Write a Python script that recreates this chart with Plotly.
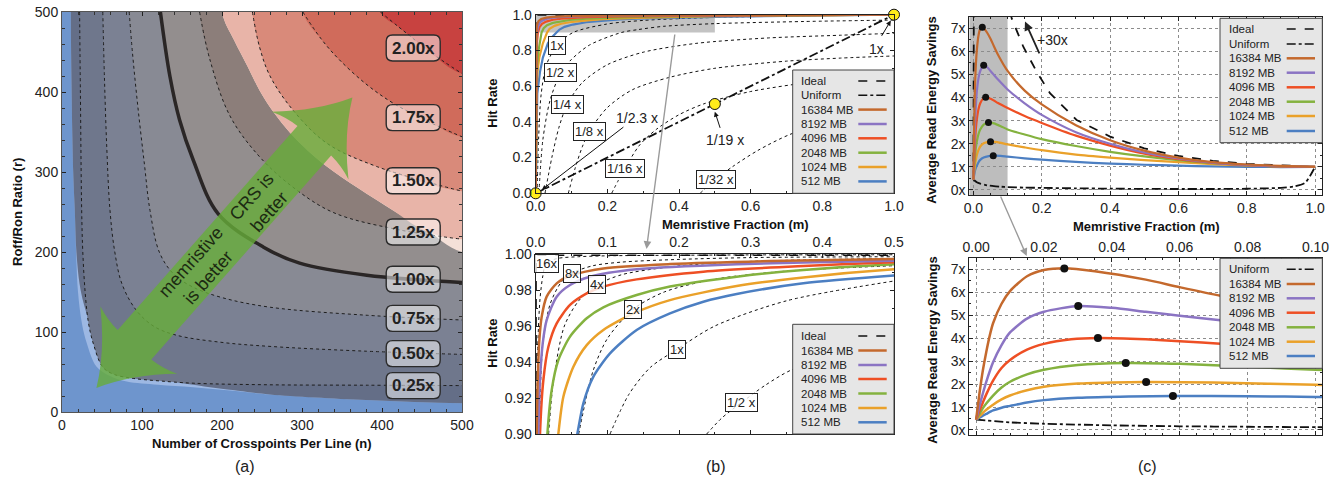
import math
import plotly.graph_objects as go

W, H = 1340, 480
FONT = "Liberation Sans"


def PX(x):
    return x / W


def PY(y):
    return 1 - y / H


# ======================= (a) data: contour boundaries (n, r) =======================
PALE_N = [11, 12, 14, 16, 18, 20, 25, 31, 43, 60, 81, 120, 164, 220, 260, 380, 500]
PALE_R = [500, 400, 300, 252, 190, 150, 110, 86, 57, 45, 38, 34, 31, 26, 22, 15, 11]
SLATE_N = [11, 12, 14, 16, 18, 22, 27, 36, 47, 65, 89, 120, 164, 220, 260, 380, 500]
SLATE_R = [500, 400, 300, 252, 200, 160, 136, 108, 86, 66, 52, 42, 34, 26.5, 22, 15, 11]
C025_N = [22, 23, 24.6, 26, 29, 33, 39, 51, 65, 89, 120, 164, 260, 380, 500]
C025_R = [500, 400, 252, 200, 149, 112, 86, 56, 47, 42, 39, 36, 34, 33.5, 33]
C050_N = [51, 53, 56, 60, 66, 75, 93, 115, 143, 200, 260, 380, 500]
C050_R = [500, 420, 330, 252, 200, 160, 127, 107, 96, 87, 82, 76, 72]
C075_N = [84, 88, 95, 103, 110, 122, 140, 164, 200, 260, 380, 500]
C075_R = [500, 450, 380, 310, 252, 199, 172, 156, 143, 131, 121, 115]
C100_N = [123, 135, 147, 164, 195, 252, 297, 381, 500]
C100_R = [500, 419, 365, 315, 248, 206, 186, 171, 162]
C125_N = [172, 185, 210, 247, 290, 340, 420, 500]
C125_R = [500, 440, 370, 319, 280, 249, 228, 216]
C150_N = [238, 247, 260, 289, 331, 393, 500]
C150_R = [500, 456, 420, 377, 336, 307, 276]
C175_N = [301, 325, 347, 380, 414, 460, 500]
C175_R = [500, 465, 440, 410, 386, 362, 344]
C200_N = [398, 420, 435, 460, 500]
C200_R = [500, 482, 470, 450, 423]
PINK_N = [200, 215, 232, 247, 265, 285, 307, 331, 370, 414, 455, 500]
PINK_R = [500, 465, 432, 402, 374, 349, 327, 307, 280, 252, 228, 200]
ENV_N = [200, 215, 232, 247, 265, 285, 307, 331, 370, 414, 445, 470, 500]
ENV_R = [500, 465, 432, 402, 374, 349, 327, 307, 280, 252, 231, 221, 216]
A_LABELS = ["2.00x", "1.75x", "1.50x", "1.25x", "1.00x", "0.75x", "0.50x", "0.25x"]
A_LABEL_R = [455, 368, 289, 225, 166, 117, 73, 33]
A_LABEL_N = 439

# ======================= (b) data: hit rate vs memristive fraction =======================
SIZES = ["16384 MB", "8192 MB", "4096 MB", "2048 MB", "1024 MB", "512 MB"]
COLORS = ["#c4692d", "#8b74c3", "#ee4f24", "#84b23f", "#eaa12a", "#4c7fc2"]

HR_M = {
    "512 MB": [0, 0.003, 0.0045, 0.012, 0.02, 0.034, 0.046, 0.0581, 0.0665, 0.0805, 0.1037, 0.1409,
               0.1874, 0.234, 0.2805, 0.3735, 0.5, 0.6, 0.7, 0.8, 0.9, 1.0],
    "1024 MB": [0, 0.002, 0.005, 0.01, 0.02, 0.026, 0.0316, 0.0386, 0.0526, 0.0712, 0.0944, 0.1363,
                0.1874, 0.2805, 0.3735, 0.5, 0.6, 0.7, 0.8, 0.9, 1.0],
    "2048 MB": [0, 0.0015, 0.004, 0.008, 0.012, 0.0163, 0.0223, 0.0316, 0.0479, 0.0712, 0.0944, 0.1409,
                0.1874, 0.2805, 0.3735, 0.5, 0.6, 0.7, 0.8, 0.9, 1.0],
    "4096 MB": [0, 0.001, 0.0025, 0.004, 0.006, 0.0107, 0.0177, 0.0293, 0.0479, 0.0712, 0.0944, 0.1409,
                0.234, 0.3735, 0.5, 0.6, 0.7, 0.8, 0.9, 1.0],
    "8192 MB": [0, 0.0008, 0.002, 0.003, 0.0037, 0.006, 0.0098, 0.0153, 0.0293, 0.0479, 0.0758, 0.1409,
                0.2805, 0.5, 0.6, 0.7, 0.8, 0.9, 1.0],
    "16384 MB": [0, 0.0005, 0.001, 0.0014, 0.0028, 0.0051, 0.0084, 0.0153, 0.0293, 0.0479, 0.0944, 0.1874,
                 0.327, 0.5, 0.6, 0.7, 0.8, 0.9, 1.0],
}
HR_H = {
    "512 MB": [0, 0.45, 0.56, 0.68, 0.76, 0.84, 0.875, 0.900, 0.917, 0.9319, 0.9448, 0.9578,
               0.967, 0.9735, 0.9778, 0.9837, 0.988, 0.9905, 0.9925, 0.9945, 0.9965, 1.0],
    "1024 MB": [0, 0.55, 0.68, 0.76, 0.84, 0.875, 0.900, 0.9207, 0.9374, 0.9494, 0.9578, 0.967,
                0.9744, 0.9822, 0.987, 0.9915, 0.9935, 0.995, 0.9965, 0.998, 1.0],
    "2048 MB": [0, 0.55, 0.72, 0.80, 0.86, 0.900, 0.9244, 0.9411, 0.9541, 0.9643, 0.9704, 0.9772,
                0.9819, 0.9874, 0.9911, 0.9943, 0.9955, 0.9965, 0.9975, 0.9985, 1.0],
    "4096 MB": [0, 0.55, 0.75, 0.85, 0.900, 0.930, 0.9485, 0.9615, 0.9717, 0.9781, 0.9819, 0.9859,
                0.9902, 0.9933, 0.9954, 0.9962, 0.997, 0.9978, 0.9986, 1.0],
    "8192 MB": [0, 0.60, 0.80, 0.87, 0.900, 0.930, 0.9504, 0.9633, 0.9763, 0.9828, 0.9874, 0.9915,
                0.9943, 0.9963, 0.9968, 0.9974, 0.998, 0.9987, 1.0],
    "16384 MB": [0, 0.60, 0.82, 0.900, 0.930, 0.9522, 0.9652, 0.9763, 0.9837, 0.988, 0.992, 0.9944,
                 0.9961, 0.9972, 0.9976, 0.998, 0.9985, 0.999, 1.0],
}
IDEAL_B_M = [0, 0.0005, 1.0]
IDEAL_B_H = [0, 0.9993, 0.9993]
UNIFORM_B_M = [0, 1.0]
UNIFORM_B_H = [0, 1.0]
YELLOW_M = [0, 0.5, 1.0]
YELLOW_H = [0, 0.5, 1.0]

# iso-savings dotted lines, top panel
ISO_TOP = {
    "1x": ([0.004, 0.008, 0.015, 0.03, 0.06, 0.104, 0.197, 0.3, 0.5, 0.75, 1.0],
           [0, 0.3, 0.55, 0.72, 0.83, 0.9, 0.947, 0.968, 0.985, 0.994, 1.0]),
    "1/2 x": ([0.009, 0.02, 0.04, 0.07, 0.1, 0.15, 0.2386, 0.287, 0.357, 0.5, 0.75, 1.0],
              [0, 0.3, 0.52, 0.676, 0.75, 0.83, 0.9, 0.917, 0.935, 0.95, 0.962, 0.97]),
    "1/4 x": ([0.026, 0.045, 0.065, 0.088, 0.13, 0.2, 0.3, 0.45, 0.65, 0.85, 1.0],
              [0, 0.2, 0.37, 0.498, 0.62, 0.72, 0.79, 0.84, 0.87, 0.885, 0.896]),
    "1/8 x": ([0.091, 0.11, 0.13, 0.149, 0.2, 0.27, 0.375, 0.5, 0.7, 0.85, 1.0],
              [0, 0.14, 0.26, 0.345, 0.48, 0.58, 0.65, 0.7, 0.74, 0.757, 0.769]),
    "1/16 x": ([0.212, 0.23, 0.249, 0.29, 0.338, 0.4, 0.468, 0.6, 0.8, 1.0],
               [0, 0.07, 0.14, 0.27, 0.36, 0.44, 0.5, 0.57, 0.63, 0.66]),
    "1/32 x": ([0.459, 0.48, 0.503, 0.55, 0.62, 0.71, 0.85, 1.0],
               [0, 0.04, 0.08, 0.15, 0.24, 0.33, 0.42, 0.48]),
}
ISO_TOP_LABEL_POS = {"1x": (0.06, 0.83), "1/2 x": (0.07, 0.676), "1/4 x": (0.088, 0.498),
                     "1/8 x": (0.149, 0.345), "1/16 x": (0.249, 0.14), "1/32 x": (0.503, 0.08)}

# iso-savings dotted lines, bottom (zoomed) panel
ISO_BOT = {
    "16x": ([0.0015, 0.003, 0.006, 0.01, 0.0144, 0.03, 0.06, 0.1, 0.2, 0.3, 0.5],
            [0.9, 0.95, 0.975, 0.988, 0.9948, 0.9975, 0.9985, 0.999, 0.9993, 0.9995, 0.9996]),
    "8x": ([0.005, 0.01, 0.02, 0.035, 0.0502, 0.08, 0.12, 0.2, 0.3, 0.5],
           [0.9, 0.95, 0.972, 0.984, 0.9893, 0.9935, 0.9955, 0.997, 0.998, 0.9985]),
    "4x": ([0.018, 0.025, 0.04, 0.06, 0.0851, 0.12, 0.18, 0.25, 0.35, 0.5],
           [0.9, 0.93, 0.96, 0.974, 0.9828, 0.9885, 0.9925, 0.995, 0.9965, 0.9975]),
    "2x": ([0.06, 0.08, 0.1, 0.1363, 0.18, 0.25, 0.35, 0.5],
           [0.9, 0.935, 0.953, 0.9694, 0.979, 0.986, 0.9905, 0.9935]),
    "1x": ([0.1037, 0.13, 0.16, 0.197, 0.25, 0.35, 0.5],
           [0.9, 0.922, 0.937, 0.947, 0.96, 0.974, 0.985]),
    "1/2 x": ([0.2386, 0.26, 0.287, 0.32, 0.357, 0.42, 0.5],
              [0.9, 0.909, 0.9174, 0.927, 0.9356, 0.943, 0.95]),
}
ISO_BOT_LABEL_POS = {"16x": (0.0144, 0.9948), "8x": (0.0502, 0.9893), "4x": (0.0851, 0.9828),
                     "2x": (0.1363, 0.9694), "1x": (0.197, 0.947), "1/2 x": (0.287, 0.9174)}

# ======================= (c) data: read energy savings =======================
ES_M = {
    "16384 MB": [0, 0.001, 0.002, 0.003, 0.004, 0.005, 0.0075, 0.01, 0.015, 0.02, 0.026, 0.035, 0.05, 0.06,
                 0.072, 0.1, 0.15, 0.2, 0.3, 0.4, 0.5, 0.6, 0.7, 0.8, 0.9, 1.0],
    "8192 MB": [0, 0.001, 0.002, 0.003, 0.005, 0.0075, 0.01, 0.015, 0.02, 0.03, 0.04, 0.05, 0.06, 0.072,
                0.1, 0.15, 0.2, 0.3, 0.4, 0.5, 0.6, 0.7, 0.8, 0.9, 1.0],
    "4096 MB": [0, 0.001, 0.002, 0.003, 0.005, 0.0075, 0.01, 0.015, 0.02, 0.028, 0.036, 0.05, 0.06, 0.072,
                0.1, 0.15, 0.2, 0.3, 0.4, 0.5, 0.6, 0.7, 0.8, 0.9, 1.0],
    "2048 MB": [0, 0.001, 0.002, 0.003, 0.005, 0.0075, 0.01, 0.015, 0.02, 0.03, 0.044, 0.06, 0.08, 0.1,
                0.15, 0.2, 0.3, 0.4, 0.5, 0.6, 0.7, 0.8, 0.9, 1.0],
    "1024 MB": [0, 0.001, 0.002, 0.003, 0.005, 0.0075, 0.01, 0.015, 0.02, 0.03, 0.04, 0.05, 0.07, 0.1,
                0.15, 0.2, 0.3, 0.4, 0.5, 0.6, 0.7, 0.8, 0.9, 1.0],
    "512 MB": [0, 0.001, 0.002, 0.003, 0.005, 0.0075, 0.01, 0.015, 0.02, 0.03, 0.045, 0.058, 0.08, 0.1,
               0.15, 0.2, 0.3, 0.4, 0.5, 0.6, 0.7, 0.8, 0.9, 1.0],
}
ES_Y = {
    "16384 MB": [0.45, 1.6, 2.6, 3.4, 4.1, 4.65, 5.5, 6.05, 6.7, 6.97, 7.05, 6.92, 6.55, 6.22,
                 5.85, 5.15, 4.3, 3.7, 2.8, 2.15, 1.7, 1.4, 1.2, 1.1, 1.04, 1.0],
    "8192 MB": [0.45, 1.05, 1.6, 2.1, 2.95, 3.7, 4.25, 4.85, 5.15, 5.4, 5.32, 5.15, 4.98, 4.78,
                4.35, 3.75, 3.25, 2.5, 2.0, 1.62, 1.36, 1.18, 1.08, 1.03, 1.0],
    "4096 MB": [0.45, 0.85, 1.2, 1.55, 2.15, 2.7, 3.05, 3.5, 3.75, 3.95, 4.01, 3.95, 3.87, 3.76,
                3.55, 3.2, 2.9, 2.35, 1.92, 1.57, 1.33, 1.17, 1.07, 1.02, 1.0],
    "2048 MB": [0.45, 0.7, 0.95, 1.15, 1.5, 1.85, 2.1, 2.42, 2.62, 2.83, 2.92, 2.88, 2.76, 2.62,
                2.4, 2.2, 1.9, 1.65, 1.45, 1.29, 1.16, 1.07, 1.02, 1.0],
    "1024 MB": [0.45, 0.6, 0.75, 0.88, 1.1, 1.33, 1.5, 1.73, 1.88, 2.02, 2.07, 2.09, 2.07, 1.97,
                1.84, 1.72, 1.53, 1.4, 1.29, 1.2, 1.12, 1.06, 1.02, 1.0],
    "512 MB": [0.45, 0.54, 0.62, 0.7, 0.85, 0.97, 1.05, 1.2, 1.3, 1.4, 1.46, 1.48, 1.47, 1.44,
               1.37, 1.31, 1.21, 1.14, 1.09, 1.05, 1.02, 1.0, 0.99, 1.0],
}
PEAK_M = [0.026, 0.0301, 0.0359, 0.0441, 0.0501, 0.058]
PEAK_Y = [7.04, 5.40, 4.01, 2.92, 2.09, 1.48]
IDEAL_C_M = [0.0, 0.005, 0.03, 0.06, 0.09, 0.112, 0.146, 0.185, 0.224, 0.302, 0.4, 0.5, 0.6, 0.7, 0.8, 0.9, 1.0]
IDEAL_C_Y = [0.45, 30, 30, 14, 9, 7.43, 6.2, 5.12, 4.19, 3.03, 2.31, 1.8, 1.47, 1.26, 1.13, 1.05, 1.0]
UNIFORM_C_M = [0, 0.01, 0.02, 0.04, 0.06, 0.08, 0.1, 0.15, 0.2, 0.3, 0.4, 0.5, 0.6, 0.7, 0.8, 0.85,
               0.9, 0.94, 0.97, 0.985, 1.0]
UNIFORM_C_Y = [0.45, 0.33, 0.27, 0.2, 0.16, 0.14, 0.12, 0.1, 0.09, 0.07, 0.055, 0.045, 0.04, 0.04, 0.05,
               0.065, 0.09, 0.15, 0.3, 0.6, 1.0]
C_TICKS = [0, 1, 2, 3, 4, 5, 6, 7]
C_TICKTEXT = ["0x", "1x", "2x", "3x", "4x", "5x", "6x", "7x"]

# ======================= figure =======================
fig = go.Figure()
shapes = []
annots = []


def tr(x, y, xa, ya, **kw):
    fig.add_trace(go.Scatter(x=x, y=y, xaxis=xa, yaxis=ya, hoverinfo="skip",
                             showlegend=False, **kw))


# ---------- (a) fills ----------
tr([-20, 620, 620, -20], [-20, -20, 620, 620], "x", "y", mode="lines", fill="toself",
   fillcolor="#6e95cd", line=dict(width=0))
FILLS = [
    (PALE_N, PALE_R, "#9db8e3"),
    (SLATE_N, SLATE_R, "#646e87"),
    (C025_N, C025_R, "#6f778c"),
    (C050_N, C050_R, "#7b8193"),
    (C075_N, C075_R, "#888a94"),
    (C100_N, C100_R, "#938e8e"),
    (C125_N, C125_R, "#8c7e7a"),
    (PINK_N, PINK_R, "#f4e0d8"),
    (ENV_N, ENV_R, "#e8b4a8"),
    (C150_N, C150_R, "#d98a7a"),
    (C175_N, C175_R, "#d06b5b"),
    (C200_N, C200_R, "#c84240"),
]
for ns, rs, col in FILLS:
    xs = [ns[0]] + ns + [620, 620]
    ys = [620] + rs + [rs[-1], 620]
    tr(xs, ys, "x", "y", mode="lines", fill="toself", fillcolor=col,
       line=dict(width=0, shape="spline", smoothing=1))

for ns, rs in [(C025_N, C025_R), (C050_N, C050_R), (C075_N, C075_R), (C125_N, C125_R),
               (C150_N, C150_R), (C175_N, C175_R), (C200_N, C200_R)]:
    tr(ns, rs, "x", "y", mode="lines",
       line=dict(color="#1e1e1e", width=1, dash="dot", shape="spline", smoothing=1))
tr(C100_N, C100_R, "x", "y", mode="lines",
   line=dict(color="#2a2626", width=3.5, shape="spline", smoothing=1))


def rrect(cx, cy, w, h, r):
    x0, x1, y0, y1 = cx - w / 2, cx + w / 2, cy - h / 2, cy + h / 2
    return (f"M {x0+r},{y0} L {x1-r},{y0} Q {x1},{y0} {x1},{y0+r} L {x1},{y1-r} "
            f"Q {x1},{y1} {x1-r},{y1} L {x0+r},{y1} Q {x0},{y1} {x0},{y1-r} "
            f"L {x0},{y0+r} Q {x0},{y0} {x0+r},{y0} Z")


# green double arrow (decoration)
T1 = (43.0, 30.0)
T2 = (363.0, 393.0)
ddx, ddy = T2[0] - T1[0], T2[1] - T1[1]
LL = math.hypot(ddx, ddy)
ux, uy = ddx / LL, ddy / LL
vx, vy = -uy, ux


def pt(base, s, a, p):
    return (base[0] + s * ux * a + vx * p, base[1] + s * uy * a + vy * p)


def f(p):
    return f"{p[0]:.2f},{p[1]:.2f}"


HW, WA, WP, JA = 28, 80, 64, 72
path = (f"M {f(T2)} Q {f(pt(T2,-1,42,22))} {f(pt(T2,-1,WA,WP))} "
        f"Q {f(pt(T2,-1,73,46))} {f(pt(T2,-1,JA,HW))} "
        f"L {f(pt(T1,1,JA,HW))} Q {f(pt(T1,1,73,46))} {f(pt(T1,1,WA,WP))} "
        f"Q {f(pt(T1,1,42,22))} {f(T1)} "
        f"Q {f(pt(T1,1,42,-22))} {f(pt(T1,1,WA,-WP))} "
        f"Q {f(pt(T1,1,73,-46))} {f(pt(T1,1,JA,-HW))} "
        f"L {f(pt(T2,-1,JA,-HW))} Q {f(pt(T2,-1,73,-46))} {f(pt(T2,-1,WA,-WP))} "
        f"Q {f(pt(T2,-1,42,-22))} {f(T2)} Z")
shapes.append(dict(type="path", xref="x", yref="y", path=path, layer="above",
                   fillcolor="rgba(102,172,58,0.80)", line=dict(width=0)))
ang = -math.degrees(math.atan2(uy, ux))
annots.append(dict(x=247, y=260, xref="x", yref="y", text="CRS is<br>better", showarrow=False,
                   textangle=ang, xanchor="center", yanchor="middle",
                   font=dict(size=18, color="#1c2a12", family=FONT)))
annots.append(dict(x=172, y=178, xref="x", yref="y", text="memristive<br>is better", showarrow=False,
                   textangle=ang, xanchor="center", yanchor="middle",
                   font=dict(size=18, color="#1c2a12", family=FONT)))

for lab, rr in zip(A_LABELS, A_LABEL_R):
    shapes.append(dict(type="path", xref="x", yref="y", layer="above",
                       path=rrect(A_LABEL_N, rr, 67.5, 32.5, 8),
                       fillcolor="rgba(255,255,255,0.5)", line=dict(color="#2b2b2b", width=1.4)))
    annots.append(dict(x=A_LABEL_N, y=rr, xref="x", yref="y", text=f"<b>{lab}</b>", showarrow=False,
                       xanchor="center", yanchor="middle",
                       font=dict(size=17, color="#222", family=FONT)))

# ---------- (b) ----------
shapes.append(dict(type="rect", xref="x2", yref="y2", x0=0, x1=0.5, y0=0.9, y1=1.0,
                   fillcolor="#c3c3c3", line=dict(width=0), layer="below"))
for key, (mm, hh) in ISO_TOP.items():
    tr(mm, hh, "x2", "y2", mode="lines",
       line=dict(color="#111", width=1, dash="dot", shape="spline", smoothing=0.8))
for key, (mm, hh) in ISO_BOT.items():
    tr(mm, hh, "x3", "y3", mode="lines",
       line=dict(color="#111", width=1, dash="dot", shape="spline", smoothing=0.8))
tr(UNIFORM_B_M, UNIFORM_B_H, "x2", "y2", mode="lines", line=dict(color="#111", width=1.8, dash="dashdot"))
tr(IDEAL_B_M, IDEAL_B_H, "x2", "y2", mode="lines", line=dict(color="#111", width=1.6, dash="dash"))
tr(IDEAL_B_M, IDEAL_B_H, "x3", "y3", mode="lines", line=dict(color="#111", width=1.6, dash="dash"))
for name, col in list(zip(SIZES, COLORS))[::-1]:
    tr(HR_M[name], HR_H[name], "x2", "y2", mode="lines", line=dict(color=col, width=2.2))
    tr(HR_M[name], HR_H[name], "x3", "y3", mode="lines",
       line=dict(color=col, width=2.5, shape="spline", smoothing=0.7))
tr(YELLOW_M, YELLOW_H, "x2", "y2", mode="markers", cliponaxis=False,
   marker=dict(size=11, color="#ffec1a", line=dict(color="#111", width=1)))

for key, (xx, yy) in ISO_TOP_LABEL_POS.items():
    annots.append(dict(x=xx, y=yy, xref="x2", yref="y2", text=key, showarrow=False,
                       xanchor="center", yanchor="middle",
                       bgcolor="white", bordercolor="#222", borderwidth=1, borderpad=1,
                       font=dict(size=13, color="#222", family=FONT)))
for key, (xx, yy) in ISO_BOT_LABEL_POS.items():
    annots.append(dict(x=xx, y=yy, xref="x3", yref="y3", text=key, showarrow=False,
                       xanchor="center", yanchor="middle",
                       bgcolor="rgba(255,255,255,0.8)", bordercolor="#222", borderwidth=1, borderpad=1,
                       font=dict(size=13, color="#222", family=FONT)))
# arrow notes in (b)
for (hx, hy, tx, ty) in [(0.017, 0.019, 0.249, 0.377), (0.5, 0.457, 0.516, 0.358),
                         (0.991, 0.967, 0.963, 0.873)]:
    annots.append(dict(x=hx, y=hy, ax=tx, ay=ty, xref="x2", yref="y2", axref="x2", ayref="y2",
                       text="", showarrow=True, arrowhead=2, arrowsize=1, arrowwidth=1,
                       arrowcolor="#111"))
for (txt, xx, yy) in [("1/2.3 x", 0.282, 0.42), ("1/19 x", 0.528, 0.299), ("1x", 0.952, 0.806)]:
    annots.append(dict(x=xx, y=yy, xref="x2", yref="y2", text=txt, showarrow=False,
                       xanchor="center", yanchor="middle",
                       font=dict(size=14, color="#222", family=FONT)))

# ---------- (c) ----------
shapes.append(dict(type="rect", xref="x4", yref="y4", x0=-0.012, x1=0.1, y0=-0.22, y1=7.5,
                   fillcolor="#bdbdbd", line=dict(width=0), layer="below"))
tr(IDEAL_C_M, IDEAL_C_Y, "x4", "y4", mode="lines", line=dict(color="#111", width=1.8, dash="dash"))
tr(UNIFORM_C_M, UNIFORM_C_Y, "x4", "y4", mode="lines",
   line=dict(color="#111", width=1.8, dash="dashdot", shape="spline", smoothing=0.6))
tr(UNIFORM_C_M, UNIFORM_C_Y, "x5", "y5", mode="lines",
   line=dict(color="#111", width=1.8, dash="dashdot", shape="spline", smoothing=0.6))
for name, col in list(zip(SIZES, COLORS))[::-1]:
    tr(ES_M[name], ES_Y[name], "x4", "y4", mode="lines",
       line=dict(color=col, width=2.2, shape="spline", smoothing=0.7))
    tr(ES_M[name], ES_Y[name], "x5", "y5", mode="lines",
       line=dict(color=col, width=2.5, shape="spline", smoothing=0.7))
tr(PEAK_M, PEAK_Y, "x4", "y4", mode="markers", marker=dict(size=7, color="#111"))
tr(PEAK_M, PEAK_Y, "x5", "y5", mode="markers", marker=dict(size=8, color="#111"))
annots.append(dict(x=0.151, y=7.29, ax=0.195, ay=5.85, xref="x4", yref="y4", axref="x4", ayref="y4",
                   text="", showarrow=True, arrowhead=2, arrowsize=1, arrowwidth=1.8, arrowcolor="#222"))
annots.append(dict(x=0.232, y=6.5, xref="x4", yref="y4", text="+30x", showarrow=False,
                   xanchor="center", yanchor="middle",
                   font=dict(size=14, color="#222", family=FONT)))

# ---------- connectors ----------
annots.append(dict(x=PX(646.5), y=PY(249), xref="paper", yref="paper", ax=28.5, ay=-216, text="",
                   showarrow=True, arrowhead=2, arrowsize=1.1, arrowwidth=1.4, arrowcolor="#9a9a9a"))
annots.append(dict(x=PX(1026.7), y=PY(256), xref="paper", yref="paper", ax=-26.7, ay=-61, text="",
                   showarrow=True, arrowhead=2, arrowsize=1.1, arrowwidth=1.4, arrowcolor="#9a9a9a"))


# ---------- manual legends ----------
def legend(x0, y0, x1, y1, items, tx, lx0, lx1, ys):
    shapes.append(dict(type="rect", xref="paper", yref="paper", x0=PX(x0), x1=PX(x1), y0=PY(y1),
                       y1=PY(y0), fillcolor="#e6e6e6", line=dict(color="#444", width=1), layer="above"))
    for (lab, col, dash, wid), yy in zip(items, ys):
        annots.append(dict(x=PX(tx), y=PY(yy), xref="paper", yref="paper", text=lab, showarrow=False,
                           xanchor="left", yanchor="middle", font=dict(size=11.5, color="#222", family=FONT)))
        shapes.append(dict(type="line", xref="paper", yref="paper", x0=PX(lx0), x1=PX(lx1),
                           y0=PY(yy), y1=PY(yy), line=dict(color=col, width=wid, dash=dash), layer="above"))


IT_IDEAL = ("Ideal", "#111", "dash", 1.6)
IT_UNI = ("Uniform", "#111", "dashdot", 1.6)
IT_SIZES = [(s, c, "solid", 2.5) for s, c in zip(SIZES, COLORS)]

legend(792.7, 70, 894, 193.3, [IT_IDEAL, IT_UNI] + IT_SIZES, 799.3, 858.3, 886.7,
       [81, 95.3, 109.6, 124, 138.3, 152.7, 167, 181.4])
legend(792.7, 324.3, 894, 434, [IT_IDEAL] + IT_SIZES, 799.3, 858.3, 886.7,
       [336, 350.5, 365, 379, 393.5, 408, 422.3])
legend(1220, 18.3, 1322.3, 142.7, [IT_IDEAL, IT_UNI] + IT_SIZES, 1227.3, 1286.7, 1315,
       [29, 44, 58.3, 72.7, 87.3, 101.7, 116, 131])
legend(1220, 258.3, 1322.3, 368.3, [IT_UNI] + IT_SIZES, 1227.3, 1286.7, 1315,
       [269.3, 284, 298.3, 312.7, 327.3, 341.7, 356])

# ---------- axis titles & panel labels ----------
TB = dict(size=13, color="#111", family=FONT, weight="bold")
for txt, x, y, ang2 in [
    ("Number of Crosspoints Per Line (n)", 262, 443, 0),
    ("Roff/Ron Ratio (r)", 17, 212, -90),
    ("Hit Rate", 491.7, 103, -90),
    ("Memristive Fraction (m)", 735.7, 224, 0),
    ("Hit Rate", 491.7, 343, -90),
    ("Average Read Energy Savings", 931.7, 110, -90),
    ("Memristive Fraction (m)", 1146, 226, 0),
    ("Average Read Energy Savings", 931.7, 350, -90),
]:
    annots.append(dict(x=PX(x), y=PY(y), xref="paper", yref="paper", text=txt, showarrow=False,
                       xanchor="center", yanchor="middle", textangle=ang2, font=TB))
for txt, x in [("(a)", 245), ("(b)", 716), ("(c)", 1147)]:
    annots.append(dict(x=PX(x), y=PY(466), xref="paper", yref="paper", text=txt, showarrow=False,
                       xanchor="center", yanchor="middle",
                       font=dict(size=16, color="#222", family=FONT)))

# ---------- axes ----------
TF = dict(size=14, color="#222", family=FONT)


def axis(domain, rng, anchor, **kw):
    d = dict(domain=domain, range=rng, anchor=anchor, showline=True, linecolor="#222", linewidth=1,
             mirror="ticks", ticks="inside", ticklen=4, tickcolor="#222", showgrid=False,
             zeroline=False, tickfont=TF, fixedrange=True, automargin=False)
    d.update(kw)
    return d


xa_dom = [PX(62), PX(462)]
xb_dom = [PX(535.7), PX(894)]
xc_dom = [PX(969.3), PX(1322.3)]
GRID = dict(showgrid=True, gridcolor="#8c8c8c", griddash="dot", gridwidth=1)

fig.update_layout(
    width=W, height=H, margin=dict(l=0, r=0, t=0, b=0, pad=0, autoexpand=False),
    paper_bgcolor="white", plot_bgcolor="white", showlegend=False,
    font=dict(family=FONT, size=14, color="#222"),
    xaxis=axis(xa_dom, [0, 500], "y", tickvals=[0, 100, 200, 300, 400, 500], linecolor="#555",
               minor=dict(ticks="inside", dtick=20, ticklen=3, tickcolor="#333")),
    yaxis=axis([PY(412), PY(12)], [0, 500], "x", tickvals=[0, 100, 200, 300, 400, 500], linecolor="#555",
               minor=dict(ticks="inside", dtick=20, ticklen=3, tickcolor="#333")),
    xaxis2=axis(xb_dom, [0, 1], "y2", tickvals=[0, 0.2, 0.4, 0.6, 0.8, 1.0], tickformat=".1f",
                minor=dict(ticks="inside", dtick=0.1, ticklen=2)),
    yaxis2=axis([PY(193.3), PY(14.7)], [0, 1], "x2", tickvals=[0, 0.2, 0.4, 0.6, 0.8, 1.0],
                tickformat=".1f", minor=dict(ticks="inside", dtick=0.1, ticklen=2)),
    xaxis3=axis(xb_dom, [0, 0.5], "y3", side="top", tickvals=[0, 0.1, 0.2, 0.3, 0.4, 0.5],
                tickformat=".1f", minor=dict(ticks="inside", dtick=0.05, ticklen=2)),
    yaxis3=axis([PY(434), PY(254)], [0.9, 1.0], "x3", tickvals=[0.9, 0.92, 0.94, 0.96, 0.98, 1.0],
                tickformat=".2f", minor=dict(ticks="inside", dtick=0.01, ticklen=2)),
    xaxis4=axis(xc_dom, [-0.012, 1.021], "y4", tickvals=[0, 0.2, 0.4, 0.6, 0.8, 1.0], tickformat=".1f",
                minor=dict(ticks="inside", dtick=0.05, ticklen=2), **GRID),
    yaxis4=axis([PY(195), PY(16.7)], [-0.22, 7.5], "x4", tickvals=C_TICKS, ticktext=C_TICKTEXT,
                minor=dict(ticks="inside", dtick=0.5, ticklen=2), **GRID),
    xaxis5=axis(xc_dom, [-0.002, 0.102], "y5", side="top", tickvals=[0, 0.02, 0.04, 0.06, 0.08, 0.10],
                tickformat=".2f", minor=dict(ticks="inside", dtick=0.005, ticklen=2), **GRID),
    yaxis5=axis([PY(435), PY(258.3)], [-0.22, 7.48], "x5", tickvals=C_TICKS, ticktext=C_TICKTEXT,
                minor=dict(ticks="inside", dtick=0.5, ticklen=2), **GRID),
    shapes=shapes,
    annotations=annots,
)

fig.write_html("out.html", config={"displayModeBar": False, "staticPlot": True},
               post_script="document.body.style.margin='0px';document.body.style.overflow='hidden';")
